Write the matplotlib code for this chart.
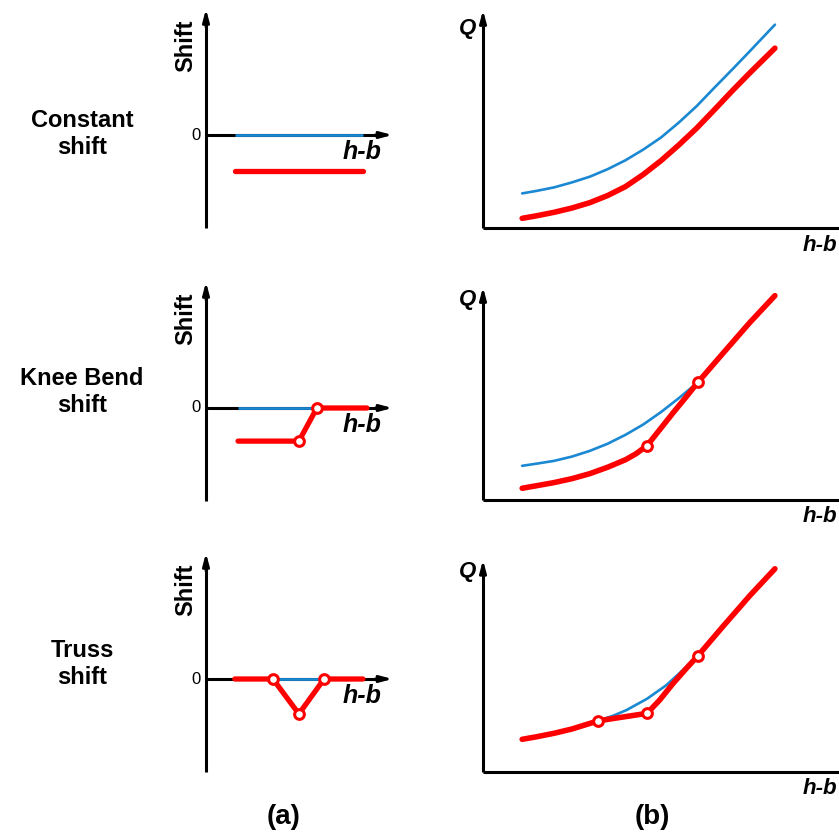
import matplotlib
matplotlib.use("Agg")
import matplotlib.pyplot as plt

plt.rcParams["font.family"] = ["Liberation Sans", "DejaVu Sans"]

# ---------------- (a) shift functions ----------------
row_titles = ["Constant\nshift", "Knee Bend\nshift", "Truss\nshift"]

# constant shift
const_hb = [0.8, 4.36]
const_shift = [-1.0, -1.0]
const_base_hb = [0.8, 4.36]

# knee bend shift (breakpoints at indices 1, 2)
knee_hb = [0.89, 2.58, 3.08, 4.47]
knee_shift = [-0.92, -0.92, 0.0, 0.0]
knee_base_hb = [0.89, 3.08]
knee_breaks = [1, 2]

# truss shift (breakpoints at indices 1, 2, 3)
truss_hb = [0.8, 1.86, 2.58, 3.28, 4.36]
truss_shift = [0.0, 0.0, -0.97, 0.0, 0.0]
truss_base_hb = [1.86, 3.28]
truss_breaks = [1, 2, 3]

# ---------------- (b) rating curves ----------------
rc1_hb = [1.1, 1.5, 2.0, 2.5, 3.0, 3.5, 4.0, 4.5, 5.0, 5.5, 6.0, 6.5, 7.0, 7.5, 8.2]
rc1_base_q = [0.98, 1.05, 1.15, 1.29, 1.45, 1.66, 1.91, 2.21, 2.55, 2.97, 3.43, 3.95, 4.46, 4.98, 5.72]
rc1_shift_q = [0.28, 0.35, 0.45, 0.57, 0.72, 0.92, 1.17, 1.51, 1.90, 2.34, 2.81, 3.33, 3.86, 4.37, 5.06]

rc2_base_hb = [1.1, 1.5, 2.0, 2.5, 3.0, 3.5, 4.0, 4.5, 5.0, 5.5, 6.04]
rc2_base_q = [0.96, 1.02, 1.10, 1.22, 1.38, 1.58, 1.83, 2.12, 2.47, 2.86, 3.31]
rc2_hb = [1.1, 1.5, 2.0, 2.5, 3.0, 3.5, 4.0, 4.3, 4.61, 4.96, 5.34, 5.71, 6.04, 6.74, 7.49, 8.2]
rc2_q = [0.33, 0.40, 0.49, 0.60, 0.74, 0.92, 1.13, 1.30, 1.53, 1.97, 2.45, 2.90, 3.31, 4.12, 4.98, 5.74]
rc2_breaks = [8, 12]

rc3_base_hb = [3.24, 3.65, 4.03, 4.61, 5.15, 5.62, 6.04]
rc3_base_q = [1.43, 1.57, 1.73, 2.05, 2.43, 2.86, 3.26]
rc3_hb = [1.1, 1.5, 2.0, 2.5, 3.24, 4.61, 4.96, 5.34, 5.71, 6.04, 6.74, 7.49, 8.2]
rc3_q = [0.91, 0.98, 1.08, 1.20, 1.43, 1.64, 2.01, 2.48, 2.90, 3.26, 4.08, 4.94, 5.70]
rc3_breaks = [4, 5, 9]

W, H = 839, 835
BLUE = "#1a88d2"
RED = "#ff0000"

fig = plt.figure(figsize=(W / 100, H / 100), dpi=100)


def panel_axes(ox, oy, unit, xlim, ylim):
    left = ox + xlim[0] * unit
    right = ox + xlim[1] * unit
    top = oy - ylim[1] * unit
    bottom = oy - ylim[0] * unit
    ax = fig.add_axes([left / W, 1 - bottom / H, (right - left) / W, (bottom - top) / H])
    ax.set_xlim(xlim)
    ax.set_ylim(ylim)
    ax.axis("off")
    return ax


def arrow(ax, start, tip):
    ax.annotate("", xy=tip, xytext=start,
                arrowprops=dict(arrowstyle="-|>,head_length=0.45,head_width=0.12",
                                mutation_scale=16, lw=2.0, color="black",
                                shrinkA=0, shrinkB=0),
                annotation_clip=False)


def ftext(x, y, s, **kw):
    fig.text(x / W, 1 - y / H, s, ha="center", va="center", **kw)


# ---- column (a) ----
a_origin_y = [135, 408, 679]
a_unit = 36
a_lines = [
    (const_base_hb, const_hb, const_shift, []),
    (knee_base_hb, knee_hb, knee_shift, knee_breaks),
    (truss_base_hb, truss_hb, truss_shift, truss_breaks),
]
for r, (bx, sx, sy, brk) in enumerate(a_lines):
    oy = a_origin_y[r]
    ax = panel_axes(206, oy, a_unit, (-0.5, 5.4), (-2.8, 3.7))
    ax.plot([0, 0], [-2.58, 3.2], color="black", lw=2.2, solid_capstyle="butt")
    arrow(ax, (0, 3.0), (0, 3.5))
    ax.plot([0, 4.8], [0, 0], color="black", lw=2.2, solid_capstyle="butt")
    arrow(ax, (4.7, 0), (5.18, 0))
    ax.plot(bx, [0] * len(bx), color=BLUE, lw=2.0, solid_capstyle="butt", zorder=3)
    ax.plot(sx, sy, color=RED, lw=3.8, solid_capstyle="round",
            solid_joinstyle="round", zorder=4)
    if brk:
        ax.plot([sx[i] for i in brk], [sy[i] for i in brk], "o", ms=7,
                mfc="white", mec=RED, mew=2.2, zorder=5)
    ftext(196, oy, "0", fontsize=12)
    ftext(362, oy + 17, "h-b", fontsize=18, fontweight="bold", style="italic")
    ftext(186, oy - 89, "Shift", fontsize=17, fontweight="bold", rotation=90)

for title, yc in zip(row_titles, [134, 392, 664]):
    ftext(82, yc, title, fontsize=17, fontweight="bold", linespacing=1.2)

# ---- column (b) ----
b_origin_y = [228.3, 500, 771.7]
b_top = [6.13, 5.98, 5.95]
b_unit = 35.6
b_curves = [
    (rc1_hb, rc1_base_q, rc1_hb, rc1_shift_q, []),
    (rc2_base_hb, rc2_base_q, rc2_hb, rc2_q, rc2_breaks),
    (rc3_base_hb, rc3_base_q, rc3_hb, rc3_q, rc3_breaks),
]
for r, (bx, by, sx, sy, brk) in enumerate(b_curves):
    oy = b_origin_y[r]
    ax = panel_axes(483, oy, b_unit, (-0.4, 10.8), (-0.4, 6.4))
    ax.plot([0, 0], [0, b_top[r] - 0.3], color="black", lw=2.2, solid_capstyle="butt")
    arrow(ax, (0, b_top[r] - 0.4), (0, b_top[r]))
    ax.plot([0, 10.6], [0, 0], color="black", lw=2.2, solid_capstyle="butt")
    ax.plot(bx, by, color=BLUE, lw=1.9, solid_capstyle="round",
            solid_joinstyle="round", zorder=3)
    ax.plot(sx, sy, color=RED, lw=4.0, solid_capstyle="round",
            solid_joinstyle="round", zorder=4)
    if brk:
        ax.plot([sx[i] for i in brk], [sy[i] for i in brk], "o", ms=7,
                mfc="white", mec=RED, mew=2.2, zorder=5)
    ftext(468, oy - 200, "Q", fontsize=16, fontweight="bold", style="italic")
    ftext(820, oy + 17, "h-b", fontsize=16, fontweight="bold", style="italic")

ftext(284, 817, "(a)", fontsize=20, fontweight="bold")
ftext(652, 817, "(b)", fontsize=20, fontweight="bold")

fig.savefig("out.png", dpi=100)
